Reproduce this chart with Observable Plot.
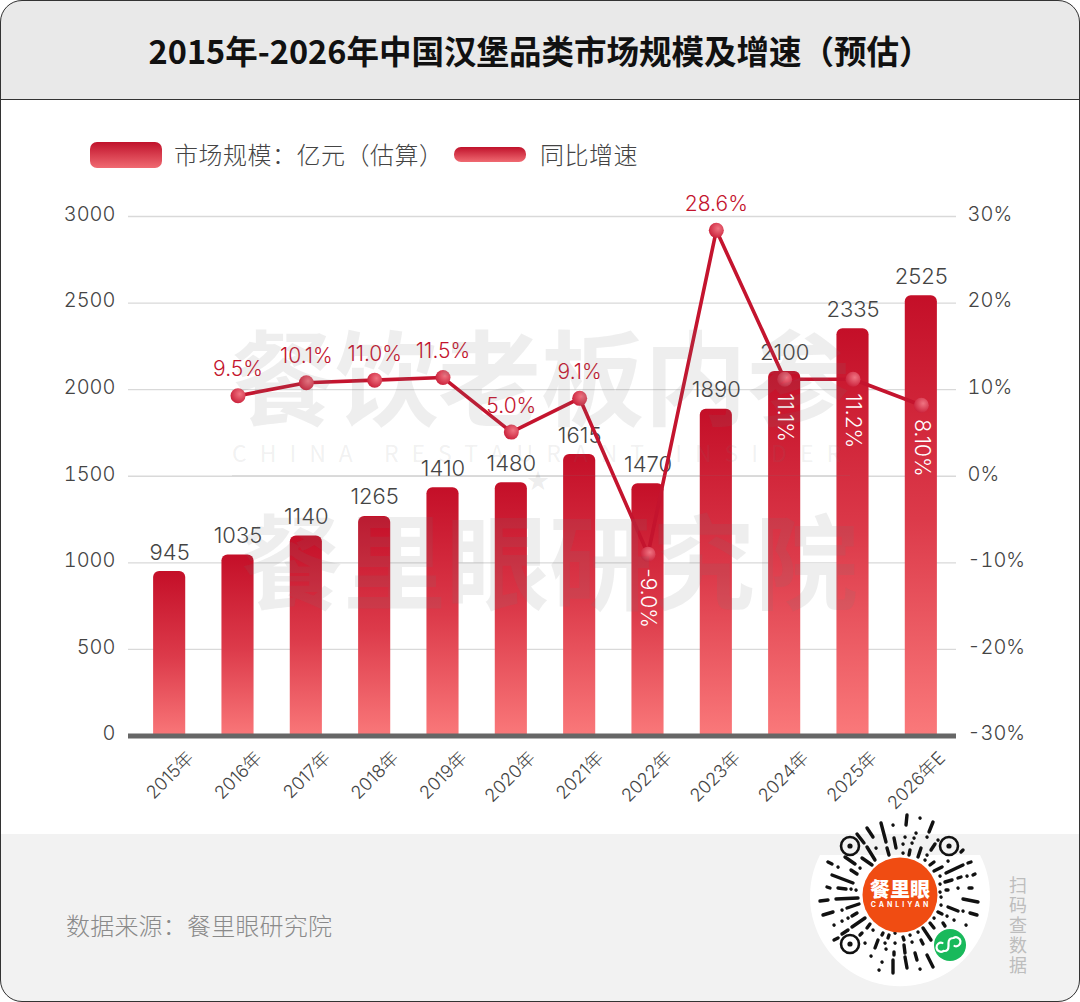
<!DOCTYPE html>
<html lang="zh">
<head>
<meta charset="utf-8">
<script src="https://cdn.jsdelivr.net/npm/d3@7"></script>
<script src="https://cdn.jsdelivr.net/npm/@observablehq/plot@0.6"></script>
<style>
*{box-sizing:border-box}
html,body{margin:0;padding:0;background:#fff}
#page{position:relative;width:1080px;height:1002px;overflow:hidden;font-family:"Noto Sans CJK SC","Noto Sans",sans-serif;background:#fff}
#frame{position:absolute;left:0;top:0;width:1080px;height:1002px;border:1.5px solid #333;border-radius:22px;pointer-events:none;z-index:9}
#head{position:absolute;left:0;top:0;width:1080px;height:100px;background:#e9e9e9;border-bottom:1.5px solid #333;border-radius:22px 22px 0 0;text-align:center;font-weight:700;font-size:32.5px;line-height:100px;color:#111;font-family:"Noto Sans CJK SC",sans-serif}
#foot{position:absolute;left:0;top:834px;width:1080px;height:168px;background:#f2f2f2;border-radius:0 0 22px 22px}
#src{position:absolute;left:66px;top:907px;font-size:24px;line-height:36px;color:#8a8a8a;white-space:nowrap;letter-spacing:.2px;font-weight:300}
#chart{position:absolute;left:0;top:0}
.sw{position:absolute;background:linear-gradient(#c0122b,#f06a72)}
.lg{position:absolute;font-size:24px;line-height:34px;color:#444;white-space:nowrap;font-weight:300;letter-spacing:.5px}
.wm{position:absolute;white-space:nowrap;color:rgba(120,120,120,.125);font-family:"Noto Sans CJK SC",sans-serif;pointer-events:none;z-index:3}
#qr{position:absolute;left:0;top:0;z-index:4}
#scan{position:absolute;left:1007px;top:874px;width:22px;font-size:18px;line-height:20px;color:#bdbdbd;text-align:center}
</style>
</head>
<body>
<div id="page">
  <div id="foot"></div>
  <div id="head">2015年-2026年中国汉堡品类市场规模及增速（预估）</div>
  <div id="chart"></div>
  <div class="sw" style="left:90px;top:142px;width:72px;height:26px;border-radius:7px"></div>
  <div class="lg" style="left:174px;top:137px">市场规模：亿元（估算）</div>
  <div class="sw" style="left:454px;top:147px;width:72px;height:15px;border-radius:7px"></div>
  <div class="lg" style="left:540px;top:137px">同比增速</div>
  <div class="wm" style="left:232px;top:304px;font-size:103px;line-height:140px;font-weight:700">餐饮老板内参</div>
  <div class="wm" style="left:232px;top:437px;font-size:23px;line-height:30px;letter-spacing:13px;color:rgba(120,120,120,.11)">CHINA RESTAURANT INSIDER</div>
  <div class="wm" style="left:232px;top:475px;width:618px;height:1.3px;background:rgba(120,120,120,.14)"></div>
  <div class="wm" style="left:527px;top:464px;font-size:22px;line-height:28px;color:rgba(120,120,120,.14)">★</div>
  <div class="wm" style="left:240px;top:488px;font-size:103px;line-height:140px;font-weight:700">餐里眼研究院</div>
  <div id="src">数据来源：餐里眼研究院</div>
  <div id="qr"></div>
  <div id="scan">扫码查数据</div>
  <div id="frame"></div>
</div>
<script>
// ---- chart data ----
const years = ["2015年","2016年","2017年","2018年","2019年","2020年","2021年","2022年","2023年","2024年","2025年","2026年E"];
const sizeLabels = ["945","1035","1140","1265","1410","1480","1615","1470","1890","2100","2335","2525"];
const sizeDrawn = [950,1045,1155,1268,1433,1462,1625,1457,1887,2105,2352,2543];
const growthYears = years.slice(1);
const growthLabels = ["9.5%","10.1%","11.0%","11.5%","5.0%","9.1%","-9.0%","28.6%","11.1%","11.2%","8.10%"];
const growthDrawn = [9.3,10.8,11.1,11.4,5.1,9.0,-9.0,28.4,11.2,11.2,8.2];
const leftTicks = [0,500,1000,1500,2000,2500,3000];
const rightTicks = [-30,-20,-10,0,10,20,30];
const insideBar = new Set(["-9.0%","11.1%","11.2%","8.10%"]);
const barFoot = -35; // bars start below the clipped frame so only their top corners show rounded

// the growth series shares the pane through this mapping onto the size axis
const toLeft = d3.scaleLinear([-30,30],[0,3000]);

const bars = years.map((year,i)=>({year,value:sizeDrawn[i],label:sizeLabels[i]}));
const growth = growthYears.map((year,i)=>({year,value:toLeft(growthDrawn[i]),label:growthLabels[i]}));

const defs = () => {
  const d = d3.create("svg:defs");
  const lin = d.append("linearGradient").attr("id","barGrad").attr("x1",0).attr("y1",0).attr("x2",0).attr("y2",1);
  [[0,"#c40f28"],[.5,"#dc3a4a"],[1,"#fb7b7c"]].forEach(([o,c])=>lin.append("stop").attr("offset",o).attr("stop-color",c));
  const rad = d.append("radialGradient").attr("id","dotGrad").attr("cx",.62).attr("cy",.38).attr("r",.7);
  [[0,"#f07482"],[1,"#c81c36"]].forEach(([o,c])=>rad.append("stop").attr("offset",o).attr("stop-color",c));
  return d.node();
};

const font = "Inter,'Noto Sans CJK SC',sans-serif";
const plot = Plot.plot({
  width:1080, height:1002,
  marginLeft:128, marginRight:124, marginTop:216, marginBottom:266.5,
  style:{background:"transparent",fontFamily:font,overflow:"visible"},
  x:{type:"band",domain:years,range:[135,955],paddingInner:.53,paddingOuter:.265,round:false,axis:null},
  y:{domain:[0,3000],axis:null},
  marks:[
    defs,
    Plot.gridY(leftTicks,{stroke:"#d9d9d9",strokeOpacity:1,strokeWidth:1.3}),
    Plot.barY(bars,{x:"year",y1:()=>barFoot,y2:"value",fill:"url(#barGrad)",rx:6,clip:"frame"}),
    Plot.ruleY([0],{stroke:"#666",strokeWidth:5}),
    Plot.axisY(leftTicks,{anchor:"left",tickSize:0,tickPadding:13,fontSize:20,fontWeight:300,dy:-2,color:"#444",label:null,tickFormat:d=>String(d)}),
    Plot.axisY(rightTicks.map(toLeft),{anchor:"right",tickSize:0,tickPadding:11,fontSize:20,fontWeight:300,dy:-2,color:"#444",label:null,tickFormat:d=>Math.round(toLeft.invert(d))+"%"}),
    Plot.text(years,{x:d=>d,y:()=>0,text:d=>d,rotate:-45,textAnchor:"end",dx:21,dy:19,fontSize:18,fontWeight:300,fill:"#444"}),
    Plot.text(bars,{x:"year",y:"value",text:"label",dy:-19,fontSize:22,fontWeight:300,fill:"#444"}),
    Plot.line(growth,{x:"year",y:"value",stroke:"#c4142e",strokeWidth:3.6,curve:"linear"}),
    Plot.dot(growth,{x:"year",y:"value",r:7.5,fill:"url(#dotGrad)"}),
    Plot.text(growth.filter(d=>!insideBar.has(d.label)),{x:"year",y:"value",text:"label",dy:-26,fontSize:21,fontWeight:300,fill:"#c4142e"}),
    Plot.text(growth.filter(d=>insideBar.has(d.label)),{x:"year",y:"value",text:"label",rotate:90,textAnchor:"start",dy:14,fontSize:21,fontWeight:300,fill:"#fff"})
  ]
});
document.getElementById("chart").appendChild(plot);

// ---- decorative mini-program code, bottom right ----
const qrDashes = [[867,828,873,837],[881,823,886,842],[893,825],[894,838,896,848],[857,834,864,843],[876,848],[867,847,875,860],[887,848,889,855],
[828,862,832,864],[845,857,855,864],[862,858,872,865],[838,867],[851,870,857,874],[860,868],[832,875,853,883],[827,887,830,888],[838,888,846,889],[851,889],[856,890],
[907,815,906,825],[920,818],[933,822,929,832],[916,833],[905,837],[914,838],[927,837],[938,840],[935,844,931,850],[903,844],[912,843],[921,848,918,857],[910,850,909,855],[903,853],[927,855],[934,862,930,865],[942,867,934,871],[948,861],[963,850,961,852],[925,860],[963,865,946,873],[971,862,968,863],[940,876],[952,880,945,882],[961,877,958,878],[975,874,973,875],[967,876],[948,890,946,890],[940,884],[958,888],[972,888,969,888],[940,892],
[820,901,828,900],[836,899,858,898],[823,915,833,912],[847,908,859,904],[842,910],[852,916,857,913],[848,918],[842,921],[834,925],[852,927,865,918],[834,940,838,938],[842,934,848,930],[860,935,862,933],[867,928,870,924],[865,943],[875,948,878,940],[873,930],[882,935,883,933],[888,938,889,935],[885,943],[886,949],[895,943],[894,952,894,955],[871,956],[882,962],[879,970],[893,960,893,973],
[963,899,978,902],[948,907,958,911],[963,911],[970,913,977,915],[938,912,942,914],[947,916],[954,920],[943,923,945,926],[966,925],[930,923,934,928],[934,918],[923,928,931,940],[918,932],[910,935],[903,937,904,940],[912,942],[921,940,923,944],[895,933],[904,945,905,953],[915,953,917,960],[905,957,907,968],[927,955,933,967],[920,969],[941,897],[941,905]];
const qrEyes = [[850,846],[949,846],[850,944]];
const qr = d3.select("#qr").append("svg").attr("width",1080).attr("height",1002).style("display","block");
qr.append("path").attr("d","M820 855A90 90 0 1 0 980 855").attr("fill","#fff");
qr.selectAll("line").data(qrDashes).join("line")
  .attr("x1",d=>d[0]).attr("y1",d=>d[1])
  .attr("x2",d=>d.length>2?d[2]:d[0]+.1).attr("y2",d=>d.length>2?d[3]:d[1]+.1)
  .attr("stroke","#111").attr("stroke-width",3.4).attr("stroke-linecap","round");
qrEyes.forEach(([x,y])=>{
  qr.append("circle").attr("cx",x).attr("cy",y).attr("r",9).attr("fill","none").attr("stroke","#111").attr("stroke-width",2.6);
  qr.append("circle").attr("cx",x).attr("cy",y).attr("r",2.6).attr("fill","#111");
});
qr.append("circle").attr("cx",900).attr("cy",895).attr("r",37.5).attr("fill","#f04c12");
qr.append("text").attr("x",900).attr("y",897).attr("text-anchor","middle").attr("fill","#fff")
  .attr("font-size",20).attr("font-weight",900).attr("font-family","'Noto Sans CJK SC',sans-serif").text("餐里眼");
qr.append("text").attr("x",901).attr("y",906.5).attr("text-anchor","middle").attr("fill","#fff")
  .attr("font-size",7).attr("font-weight",700).attr("letter-spacing",3).attr("font-family","Inter,sans-serif").text("CANLIYAN");
qr.append("circle").attr("cx",950).attr("cy",945).attr("r",16).attr("fill","#19b95b");
qr.append("path").attr("d","M944 951a4.5 4.5 0 1 1 -1 -8M945 951c2 0 4-1 4-5v-3c0-4 2-5 5-5a4.5 4.5 0 1 1 1 8")
  .attr("transform","translate(-.5,0)").attr("fill","none").attr("stroke","#fff").attr("stroke-width",2.2).attr("stroke-linecap","round");
</script>
</body>
</html>
